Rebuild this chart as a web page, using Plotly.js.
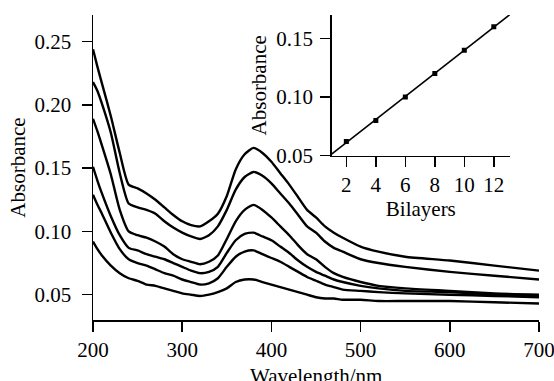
<!DOCTYPE html>
<html>
<head>
<meta charset="utf-8">
<script src="https://cdn.plot.ly/plotly-3.0.1.min.js"></script>
<style>
html,body{margin:0;padding:0;background:#fff;}
#chart{width:554px;height:381px;}
</style>
</head>
<body>
<div id="chart"></div>
<script>
// Wavelength grid (nm)
var wavelength = [200,205,210,220,230,240,250,260,270,280,290,300,310,320,330,340,350,360,370,380,390,400,410,420,430,440,450,460,470,480,500,520,550,600,650,700];

// Absorbance spectra, top (12 bilayers) to bottom (2 bilayers)
var spec12 = [0.244,0.230,0.217,0.191,0.162,0.137,0.134,0.130,0.125,0.119,0.113,0.108,0.105,0.104,0.108,0.114,0.128,0.149,0.161,0.166,0.162,0.155,0.146,0.137,0.127,0.117,0.111,0.104,0.099,0.095,0.088,0.084,0.080,0.077,0.073,0.069];
var spec10 = [0.218,0.211,0.201,0.178,0.146,0.122,0.119,0.117,0.114,0.108,0.103,0.099,0.096,0.094,0.097,0.104,0.117,0.133,0.143,0.147,0.144,0.138,0.130,0.122,0.113,0.104,0.099,0.092,0.087,0.084,0.078,0.075,0.072,0.068,0.065,0.062];
var spec8  = [0.189,0.179,0.168,0.145,0.117,0.100,0.097,0.095,0.092,0.088,0.082,0.078,0.076,0.074,0.076,0.081,0.094,0.108,0.117,0.121,0.117,0.111,0.104,0.097,0.089,0.082,0.078,0.072,0.067,0.064,0.060,0.057,0.055,0.053,0.051,0.050];
var spec6  = [0.151,0.140,0.130,0.112,0.097,0.087,0.085,0.082,0.080,0.078,0.075,0.072,0.069,0.067,0.068,0.072,0.083,0.093,0.098,0.099,0.096,0.093,0.088,0.083,0.077,0.072,0.068,0.065,0.062,0.060,0.057,0.055,0.053,0.052,0.050,0.049];
var spec4  = [0.129,0.121,0.114,0.099,0.086,0.078,0.075,0.073,0.070,0.067,0.065,0.062,0.060,0.058,0.059,0.063,0.072,0.080,0.084,0.085,0.082,0.079,0.076,0.072,0.068,0.064,0.061,0.058,0.056,0.054,0.053,0.052,0.051,0.050,0.049,0.048];
var spec2  = [0.092,0.086,0.081,0.073,0.067,0.063,0.061,0.058,0.057,0.055,0.053,0.051,0.050,0.049,0.050,0.052,0.055,0.060,0.062,0.062,0.060,0.058,0.056,0.054,0.052,0.050,0.048,0.047,0.047,0.046,0.046,0.045,0.045,0.045,0.044,0.043];

// Inset: absorbance at ~380 nm vs number of bilayers
var bilayers = [2,4,6,8,10,12];
var peakAbs = [0.062,0.080,0.100,0.120,0.140,0.160];
var fitRange = [1,13.1];

// linear fit of inset data
var n = bilayers.length, mx = 0, my = 0;
for (var i=0;i<n;i++){ mx += bilayers[i]; my += peakAbs[i]; }
mx/=n; my/=n;
var sxy=0, sxx=0;
for (var i=0;i<n;i++){ sxy += (bilayers[i]-mx)*(peakAbs[i]-my); sxx += (bilayers[i]-mx)*(bilayers[i]-mx); }
var slope = sxy/sxx, icpt = my - slope*mx;
var fitY = fitRange.map(function(x){return icpt + slope*x;});

var spectra = [spec12, spec10, spec8, spec6, spec4, spec2];
var traces = spectra.map(function(s){
  return {x: wavelength, y: s, type:'scatter', mode:'lines',
          line:{color:'#000', width:2.4, shape:'spline', smoothing:0.6},
          xaxis:'x', yaxis:'y', hoverinfo:'skip'};
});
traces.push({x: fitRange, y: fitY, type:'scatter', mode:'lines', line:{color:'#000', width:1.6}, xaxis:'x2', yaxis:'y2'});
traces.push({x: bilayers, y: peakAbs, type:'scatter', mode:'markers', marker:{symbol:'square', size:5, color:'#000'}, xaxis:'x2', yaxis:'y2'});

var FS = 21;
var font = {family:'"Liberation Serif", "Times New Roman", serif', color:'#000', size:FS};
function axisBase(){
  return {showgrid:false, zeroline:false, showline:true, linecolor:'#000', linewidth:1.5,
          ticks:'outside', ticklen:10, tickwidth:1.5, tickcolor:'#000', tickfont:{size:FS},
          automargin:false, ticklabeloverflow:'allow'};
}
var xa = axisBase();
xa.range = [200,700]; xa.tickvals = [200,300,400,500,600,700];
var ya = axisBase();
ya.range = [0.030,0.271]; ya.tickvals = [0.05,0.10,0.15,0.20,0.25]; ya.tickformat = '.2f';
ya.ticklabelstandoff = 6;
ya.title = {text:'Absorbance', font:{size:FS}, standoff:3};
var xa2 = axisBase();
xa2.domain = [0.535,0.935]; xa2.anchor = 'y2'; xa2.range = fitRange;
xa2.tickvals = [2,4,6,8,10,12];
xa2.title = {text:'Bilayers', font:{size:FS}, standoff:2};
var ya2 = axisBase();
ya2.domain = [0.539,1.0]; ya2.anchor = 'x2'; ya2.range = [0.05,0.170];
ya2.tickvals = [0.05,0.10,0.15]; ya2.tickformat = '.2f';
ya2.ticklabelstandoff = 3;
ya2.title = {text:'Absorbance', font:{size:FS}, standoff:4};

var layout = {
  width:554, height:381,
  margin:{l:93, r:15, t:15, b:61},
  paper_bgcolor:'#fff', plot_bgcolor:'#fff',
  showlegend:false,
  font: font,
  xaxis: xa, yaxis: ya, xaxis2: xa2, yaxis2: ya2,
  annotations:[{
    text:'Wavelength/nm', xref:'paper', yref:'paper', x:0.5, y:-0.138,
    xanchor:'center', yanchor:'top', showarrow:false, font:{size:FS}
  }]
};
Plotly.newPlot('chart', traces, layout, {displayModeBar:false, staticPlot:true});
</script>
</body>
</html>
